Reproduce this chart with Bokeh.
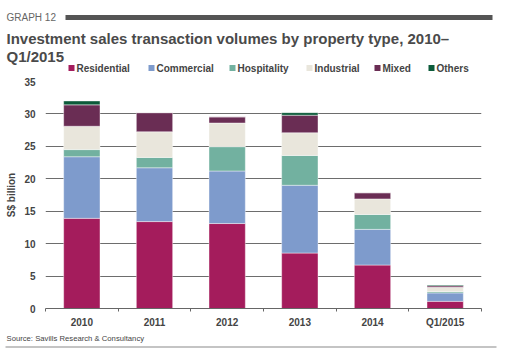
from bokeh.plotting import figure
from bokeh.layouts import column
from bokeh.models import FixedTicker, ColumnDataSource, Range1d
from bokeh.core.properties import value
from bokeh.embed import file_html
from bokeh.resources import INLINE

categories = ["2010", "2011", "2012", "2013", "2014", "Q1/2015"]
residential = [13.9, 13.4, 13.1, 8.55, 6.7, 1.1]
commercial = [9.5, 8.3, 8.1, 10.45, 5.5, 1.3]
hospitality = [1.1, 1.6, 3.75, 4.6, 2.3, 0.2]
industrial = [3.6, 3.95, 3.65, 3.5, 2.4, 0.67]
mixed = [3.3, 2.95, 0.95, 2.7, 0.95, 0.23]
others = [0.6, 0.0, 0.0, 0.4, 0.0, 0.13]
series_names = ["Residential", "Commercial", "Hospitality", "Industrial", "Mixed", "Others"]
series_colors = ["#A41C5C", "#7E9BCC", "#72B1A0", "#E9E6DC", "#6A2D54", "#0C5B3A"]
y_ticks = [0, 5, 10, 15, 20, 25, 30, 35]

graph_no = "GRAPH 12"
title_lines = ["Investment sales transaction volumes by property type, 2010\u2013", "Q1/2015"]
y_label = "S$ billion"
source_text = "Source: Savills Research & Consultancy"

FONT = "Liberation Sans"
W = 519
HEAD_H = 76          # header strip (page y 0..76)
MAIN_H = 254         # chart (page y 76..330)
FOOT_H = 20          # footer strip (page y 330..350)
F_LEFT, F_RIGHT, F_TOP, F_BOTTOM = 45, 481, 81, 309   # chart frame in page pixels


def strip(height):
    f = figure(width=W, height=height, x_range=Range1d(0, W), y_range=Range1d(height, 0),
               output_backend="svg", toolbar_location=None,
               x_axis_location=None, y_axis_location=None,
               min_border=0, min_border_left=0, min_border_right=0,
               min_border_top=0, min_border_bottom=0)
    f.frame_align = False
    f.outline_line_color = None
    f.grid.visible = False
    f.background_fill_color = "white"
    f.border_fill_color = "white"
    return f

# ---------------- header ----------------
head = strip(HEAD_H)
head.text(x=[6], y=[17], text=[graph_no], text_font=value(FONT), text_font_size="10px",
          text_color="#666666", text_baseline="middle")
head.quad(left=[65], right=[492], top=[14.5], bottom=[19.5], color="#555555", line_color=None)
head.text(x=[6, 6], y=[37.5, 56], text=title_lines, text_font=value(FONT), text_font_size="15px",
          text_font_style="bold", text_color="#4a4a4a", text_baseline="alphabetic")
legend_sq_x = [68, 148, 229, 306, 374, 428]
head.quad(left=legend_sq_x, right=[v + 6 for v in legend_sq_x],
          top=[64.5] * len(legend_sq_x), bottom=[70.5] * len(legend_sq_x),
          color=series_colors, line_color=None)
head.text(x=[v + 8 for v in legend_sq_x], y=[68] * len(legend_sq_x), text=series_names,
          text_font=value(FONT), text_font_size="10px", text_font_style="bold",
          text_color="#444444", text_baseline="middle")

# ---------------- chart ----------------
data = dict(x=list(range(len(categories))))
for name, vals in zip(series_names, [residential, commercial, hospitality, industrial, mixed, others]):
    data[name] = vals
src = ColumnDataSource(data)

p = figure(width=W, height=MAIN_H, x_range=(-0.5, len(categories) - 0.5), y_range=(0, 35),
           output_backend="svg", toolbar_location=None,
           min_border_left=F_LEFT, min_border_right=W - F_RIGHT,
           min_border_top=F_TOP - HEAD_H, min_border_bottom=HEAD_H + MAIN_H - F_BOTTOM)
p.frame_align = False
p.outline_line_color = None
p.background_fill_color = "white"
p.border_fill_color = "white"

p.vbar_stack(series_names, x="x", width=0.5, source=src, color=series_colors,
             line_color="white", line_width=0.6, line_alpha=0.7)

xa = p.xaxis[0]
xa.ticker = FixedTicker(ticks=list(range(len(categories))),
                        minor_ticks=[i - 0.5 for i in range(len(categories) + 1)])
xa.major_label_overrides = {i: c for i, c in enumerate(categories)}
xa.major_tick_line_color = None
xa.major_tick_out = 0
xa.major_tick_in = 0
xa.minor_tick_out = 3
xa.minor_tick_in = 0
xa.minor_tick_line_color = "#666666"
xa.axis_line_color = "#666666"
xa.major_label_text_font = FONT
xa.major_label_text_font_style = "bold"
xa.major_label_text_font_size = "10px"
xa.major_label_text_color = "#444444"
xa.major_label_standoff = 5

ya = p.yaxis[0]
ya.ticker = FixedTicker(ticks=y_ticks)
ya.axis_line_color = None
ya.major_tick_line_color = None
ya.minor_tick_line_color = None
ya.major_tick_out = 0
ya.major_tick_in = 0
ya.major_label_standoff = 10
ya.major_label_text_font = FONT
ya.major_label_text_font_style = "bold"
ya.major_label_text_font_size = "10px"
ya.major_label_text_color = "#444444"
ya.axis_label = y_label
ya.axis_label_text_font = FONT
ya.axis_label_text_font_style = "bold"
ya.axis_label_text_font_size = "10px"
ya.axis_label_text_color = "#444444"
ya.axis_label_standoff = 4

p.xgrid.visible = False
p.ygrid.ticker = FixedTicker(ticks=y_ticks)
p.ygrid.grid_line_color = "#6d6d6d"
p.ygrid.grid_line_width = 1

# ---------------- footer ----------------
foot = strip(FOOT_H)
foot.text(x=[6], y=[8], text=[source_text], text_font=value(FONT), text_font_size="7.7px",
          text_color="#444444", text_baseline="middle")
foot.quad(left=[5], right=[496], top=[16], bottom=[17], color="#8a8a8a", line_color=None)

layout = column(head, p, foot, spacing=0)
open("out.html", "w").write(file_html(layout, INLINE))
